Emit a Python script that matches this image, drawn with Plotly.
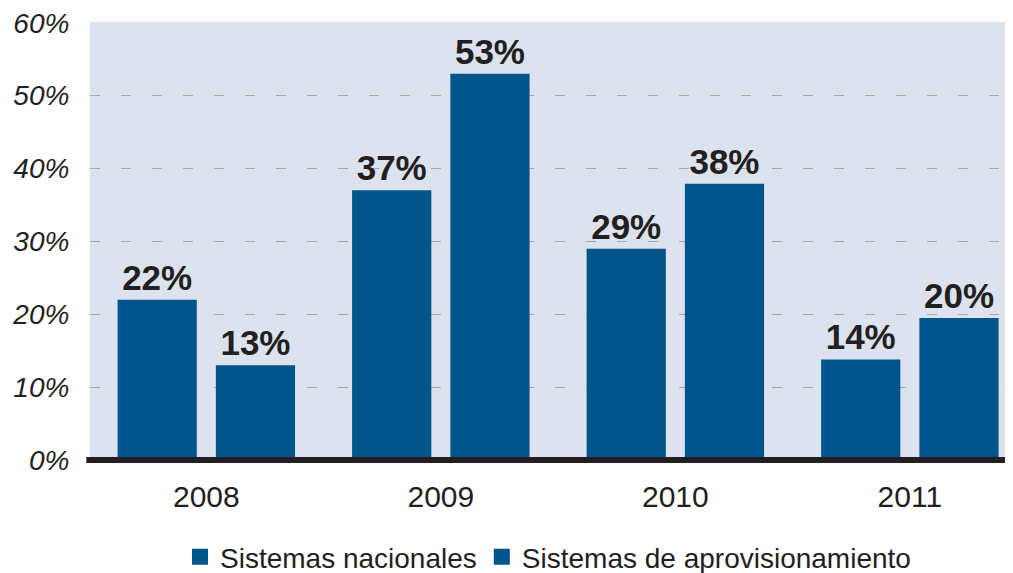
import plotly.graph_objects as go

years = ["2008", "2009", "2010", "2011"]
series_names = ["Sistemas nacionales", "Sistemas de aprovisionamiento"]
nacionales = [22, 37, 29, 13.8]
aprovisionamiento = [13, 53, 37.9, 19.5]
nacionales_labels = ["22%", "37%", "29%", "14%"]
aprovisionamiento_labels = ["13%", "53%", "38%", "20%"]
y_ticks = [0, 10, 20, 30, 40, 50, 60]
y_ticktext = ["0%", "10%", "20%", "30%", "40%", "50%", "60%"]

bar_color = "#00558b"
text_color = "#231f20"
font_family = "Liberation Sans, Arial, sans-serif"

fig = go.Figure()
for name, vals, labels in [
    (series_names[0], nacionales, nacionales_labels),
    (series_names[1], aprovisionamiento, aprovisionamiento_labels),
]:
    fig.add_trace(go.Bar(
        x=years, y=vals, name=name, showlegend=False,
        marker=dict(color=bar_color, line=dict(width=0)),
        text=labels, textposition="outside", cliponaxis=False,
        textfont=dict(family=font_family, size=35, color=text_color, weight="bold"),
    ))

# legend entries with larger square swatches
for name in series_names:
    fig.add_trace(go.Scatter(
        x=[None], y=[None], mode="markers", name=name,
        marker=dict(symbol="square", size=18, color=bar_color),
    ))

# page body has an 8px margin, so the figure is 8px smaller and margins shifted
fig.update_layout(
    width=1005, height=565,
    margin=dict(l=82, r=7, t=14, b=113, autoexpand=False),
    paper_bgcolor="white",
    plot_bgcolor="#dce2ee",
    barmode="group",
    bargap=0.162,
    bargroupgap=0.194,
    font=dict(family=font_family, color=text_color),
    showlegend=True,
    legend=dict(
        orientation="h", x=0.5, xanchor="center", y=-0.2215, yanchor="middle",
        font=dict(size=28, color=text_color), itemwidth=30,
        bgcolor="rgba(0,0,0,0)",
    ),
    xaxis=dict(
        type="category", range=[-0.496, 3.41], automargin=False,
        showgrid=False, zeroline=False, showline=False,
        ticks="outside", ticklen=10, tickcolor="rgba(0,0,0,0)",
        tickfont=dict(size=30, color=text_color),
    ),
    yaxis=dict(
        range=[0, 60.1], tickvals=y_ticks, ticktext=y_ticktext, automargin=False,
        ticklabeloverflow="allow",
        showgrid=True, gridcolor="#a8a8a8", gridwidth=1, griddash="10px,21px",
        zeroline=False, showline=False,
        ticks="outside", ticklen=14, tickcolor="rgba(0,0,0,0)",
        tickfont=dict(size=28, color=text_color, style="italic"),
    ),
)

fig.add_shape(type="line", xref="paper", yref="paper", x0=-0.004, x1=1.0, y0=0, y1=0,
              line=dict(color=text_color, width=6), layer="above")

fig.write_html("out.html")
